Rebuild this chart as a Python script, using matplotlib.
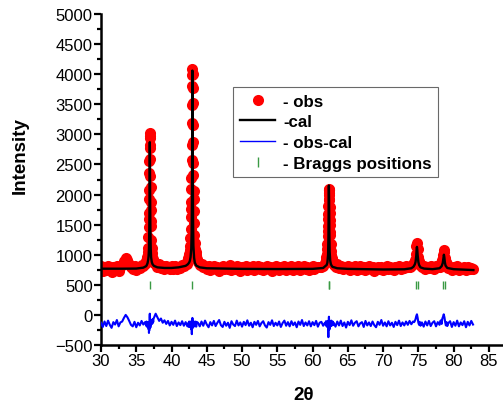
import matplotlib
matplotlib.use("Agg")
from matplotlib import pyplot as plt
from matplotlib.lines import Line2D
from matplotlib.ticker import MultipleLocator

plt.rcParams['font.family'] = ['Liberation Sans', 'DejaVu Sans']

# observed pattern (2theta, counts) and obs-cal difference on the same points
tt_obs = [
    30.00, 30.25, 30.50, 30.75, 31.00, 31.25, 31.50, 31.75, 32.00, 32.25, 32.50, 32.75,
    33.00, 33.25, 33.50, 33.75, 34.00, 34.25,
    34.50, 34.75, 35.00, 35.25, 35.50, 35.75, 36.00, 36.25,
    36.40, 36.45, 36.50, 36.55, 36.60, 36.65, 36.70,
    36.74, 36.76, 36.78, 36.80, 36.82, 36.84, 36.86, 36.88, 36.90, 36.92,
    36.94, 36.96, 36.98, 37.00, 37.02, 37.04, 37.06, 37.08, 37.10,
    37.15, 37.20, 37.25, 37.30, 37.35, 37.40, 37.45,
    37.50, 37.75, 38.00, 38.25, 38.50, 38.75, 39.00, 39.25, 39.50, 39.75,
    40.00, 40.25, 40.50, 40.75, 41.00, 41.25, 41.50, 41.75, 42.00, 42.25,
    42.40, 42.45, 42.50, 42.55, 42.60, 42.65, 42.70, 42.74,
    42.76, 42.78, 42.80, 42.82, 42.84, 42.86, 42.88, 42.90, 42.92, 42.94, 42.96,
    42.98, 43.00, 43.02, 43.04, 43.06, 43.08, 43.10, 43.12, 43.14, 43.16,
    43.20, 43.25, 43.30, 43.35, 43.40, 43.45, 43.50, 43.55,
    43.75, 44.00, 44.25, 44.50, 44.75, 45.00, 45.25, 45.50, 45.75, 46.00,
    46.25, 46.50, 46.75, 47.00, 47.25, 47.50, 47.75, 48.00, 48.25, 48.50,
    48.75, 49.00, 49.25, 49.50, 49.75, 50.00, 50.25, 50.50, 50.75, 51.00,
    51.25, 51.50, 51.75, 52.00, 52.25, 52.50, 52.75, 53.00, 53.25, 53.50,
    53.75, 54.00, 54.25, 54.50, 54.75, 55.00, 55.25, 55.50, 55.75, 56.00,
    56.25, 56.50, 56.75, 57.00, 57.25, 57.50, 57.75, 58.00, 58.25, 58.50,
    58.75, 59.00, 59.25, 59.50, 59.75, 60.00, 60.25, 60.50, 60.75, 61.00,
    61.25, 61.50, 61.75,
    61.85, 61.90, 61.95, 62.00, 62.05, 62.10,
    62.14, 62.16, 62.18, 62.20, 62.22, 62.24, 62.26, 62.28, 62.30, 62.32,
    62.34, 62.36, 62.38, 62.40, 62.42, 62.44, 62.46, 62.48, 62.50,
    62.55, 62.60, 62.65, 62.70, 62.75, 62.80, 62.85, 62.90,
    63.00, 63.25, 63.50, 63.75, 64.00, 64.25, 64.50, 64.75, 65.00, 65.25,
    65.50, 65.75, 66.00, 66.25, 66.50, 66.75, 67.00, 67.25, 67.50, 67.75,
    68.00, 68.25, 68.50, 68.75, 69.00, 69.25, 69.50, 69.75, 70.00, 70.25,
    70.50, 70.75, 71.00, 71.25, 71.50, 71.75, 72.00, 72.25, 72.50, 72.75,
    73.00, 73.25, 73.50, 73.75, 74.00, 74.25,
    74.40, 74.50, 74.60, 74.70, 74.80, 74.90, 75.00, 75.10, 75.20, 75.30,
    75.50, 75.75, 76.00, 76.25, 76.50, 76.75, 77.00, 77.25, 77.50, 77.75, 78.00, 78.10,
    78.20, 78.30, 78.40, 78.50, 78.60, 78.70, 78.80, 78.90, 79.00, 79.10,
    79.25, 79.50, 79.75, 80.00, 80.25, 80.50, 80.75, 81.00, 81.25, 81.50,
    81.75, 82.00, 82.25, 82.50, 82.75,
]
i_obs = [
    805, 725, 790, 740, 815, 760, 705, 790, 770, 820, 735, 800,
    830, 890, 950, 920, 850, 790,
    760, 810, 745, 800, 775, 830, 805, 850,
    880, 900, 930, 960, 1040, 1120, 1290,
    1460, 1600, 1700, 1920, 2080, 2350, 2550, 2820, 2940, 3020,
    2970, 2780, 2590, 2310, 2120, 1880, 1740, 1560, 1470,
    1250, 1110, 1030, 970, 930, 900, 880,
    870, 850, 800, 845, 780, 820, 765, 810, 790, 755,
    805, 770, 820, 760, 800, 780, 830, 810, 855, 840,
    940, 970, 1010, 1080, 1150, 1270, 1430, 1620,
    1760, 1880, 2100, 2280, 2570, 2830, 3190, 3480, 3810, 3980, 4080,
    4010, 3770, 3520, 3150, 2870, 2530, 2320, 2060, 1920, 1730,
    1520, 1320, 1190, 1100, 1040, 990, 950, 925,
    880, 830, 850, 790, 820, 770, 805, 745, 790, 820,
    760, 800, 730, 785, 815, 755, 795, 770, 825, 745,
    790, 760, 810, 775, 735, 800, 770, 820, 750, 790,
    765, 805, 740, 785, 815, 760, 795, 745, 780, 810,
    765, 800, 735, 790, 820, 770, 745, 800, 775, 810,
    750, 790, 765, 815, 740, 795, 770, 805, 750, 790,
    820, 765, 800, 745, 785, 810, 770, 800, 790, 800,
    790, 820, 860,
    895, 920, 960, 1010, 1090, 1185,
    1310, 1400, 1470, 1590, 1680, 1810, 1910, 2020, 2070, 2100,
    2080, 2000, 1930, 1790, 1700, 1570, 1490, 1380, 1320,
    1170, 1070, 1000, 950, 915, 890, 870, 855,
    830, 800, 840, 780, 810, 760, 800, 775, 820, 750,
    790, 765, 805, 740, 785, 810, 760, 795, 745, 780,
    805, 755, 790, 735, 775, 800, 760, 790, 740, 780,
    805, 755, 790, 770, 745, 800, 775, 810, 760, 795,
    780, 820, 800, 790, 810, 840,
    870, 915, 1010, 1140, 1200, 1090, 965, 890, 850, 825,
    790, 815, 760, 800, 775, 820, 790, 755, 805, 790, 800, 830,
    860, 880, 920, 1000, 1080, 1050, 950, 880, 840, 815,
    780, 800, 745, 790, 770, 810, 740, 785, 765, 800,
    750, 790, 760, 780, 755,
]
i_diff = [
    -130, -200, -110, -185, -95, -165, -215, -120, -160, -85, -190, -125,
    -110, -50, 0, -40, -100, -165,
    -190, -115, -205, -130, -175, -100, -160, -120,
    -175, -110, -195, -130, -180, -120, -200,
    -150, -240, -180, -300, -220, -260, -120, -40, 0, 20,
    -20, -80, -150, -210, -170, -130, -160, -110, -140,
    -100, -150, -80, -140, -70, -120, -60,
    -50, 20, -40, -100, -60, -130, -90, -150, -100, -175,
    -115, -165, -95, -185, -125, -170, -105, -180, -120, -190,
    -130, -200, -110, -185, -125, -205, -140, -110,
    -215, -150, -190, -240, -200, -280, -320, -250, -130, -80, -50,
    -100, -150, -215, -140, -100, -185, -120, -190, -140, -160,
    -185, -120, -190, -110, -175, -125, -195, -115,
    -130, -190, -110, -180, -95, -160, -205, -120, -175, -100,
    -185, -130, -85, -170, -200, -115, -180, -130, -215, -105,
    -160, -185, -95, -175, -125, -195, -115, -170, -90, -180,
    -130, -205, -115, -165, -100, -190, -135, -105, -175, -210,
    -120, -165, -90, -185, -130, -175, -110, -200, -135, -95,
    -180, -120, -190, -105, -170, -125, -205, -110, -165, -85,
    -185, -125, -175, -105, -190, -120, -170, -100, -195, -130,
    -115, -180, -130,
    -165, -105, -185, -120, -195, -125,
    -100, -205, -170, -230, -300, -370, -250, -120, -60, -30,
    -80, -120, -180, -240, -180, -120, -175, -105, -150,
    -190, -125, -95, -180, -120, -160, -110, -170,
    -130, -195, -110, -175, -95, -185, -125, -210, -115, -170,
    -90, -180, -130, -105, -190, -140, -120, -200, -100, -175,
    -125, -185, -110, -170, -205, -115, -165, -85, -180, -125,
    -190, -105, -175, -130, -200, -115, -170, -95, -185, -125,
    -175, -110, -165, -100, -155, -110,
    -120, -100, -70, -20, 10, -50, -130, -165, -115, -180,
    -125, -195, -110, -175, -100, -185, -130, -105, -190, -120, -165, -105,
    -90, -150, -60, -30, 10, -40, -120, -175, -120, -185,
    -135, -105, -200, -120, -180, -95, -190, -125, -170, -105,
    -205, -115, -175, -100, -160,
]

# calculated profile
tt_cal = [
    30.0, 33.0, 35.0, 36.0, 36.4, 36.5, 36.6, 36.7, 36.75, 36.8, 36.85, 36.88,
    36.9, 36.92, 36.94, 36.96, 37.0, 37.05, 37.1, 37.2, 37.3, 37.5, 38.0, 39.0,
    40.0, 41.0, 42.0, 42.3, 42.5, 42.6, 42.7, 42.8, 42.85, 42.9, 42.93, 42.96,
    42.99, 43.02, 43.06, 43.1, 43.2, 43.3, 43.5, 44.0, 45.0, 50.0, 55.0, 60.0,
    61.5, 62.0, 62.1, 62.2, 62.25, 62.28, 62.31, 62.34, 62.37, 62.42, 62.5, 62.6,
    62.8, 63.5, 65.0, 70.0, 73.0, 74.0, 74.3, 74.5, 74.6, 74.7, 74.76, 74.8,
    74.84, 74.9, 75.0, 75.1, 75.3, 75.8, 77.0, 78.0, 78.3, 78.45, 78.55, 78.62,
    78.68, 78.75, 78.85, 79.1, 80.0, 82.8,
]
i_cal = [
    768, 768, 770, 785, 810, 830, 860, 920, 980, 1100, 1450, 1900,
    2500, 2870, 2600, 2100, 1450, 1100, 960, 880, 845, 815, 790, 780,
    780, 790, 815, 840, 870, 900, 960, 1100, 1350, 2000, 3100, 4060,
    3300, 2300, 1500, 1150, 950, 870, 820, 790, 775, 765, 762, 765,
    780, 830, 870, 1000, 1300, 1750, 2150, 1900, 1400, 1050, 900, 840,
    800, 775, 765, 755, 758, 775, 800, 840, 880, 980, 1100, 1130,
    1090, 990, 880, 830, 790, 770, 760, 775, 810, 860, 940, 1000,
    960, 880, 820, 780, 760, 745,
]

bragg = [36.92, 42.96, 62.26, 62.38, 74.62, 74.88, 78.52, 78.80]

fig = plt.figure(figsize=(5.03, 4.06), dpi=100)
ax = fig.add_axes([101/503, 60/406, 402/503, 331/406])

ax.plot(tt_obs, i_obs, 'o', color='red', markersize=8, markeredgewidth=0, zorder=2)
ax.plot(tt_cal, i_cal, '-', color='black', lw=1.7, zorder=3)
ax.plot(tt_obs, i_diff, '-', color='blue', lw=1.5, zorder=3)
ax.vlines(bragg, 430, 560, color='#3a9a44', lw=1.0, zorder=3)

ax.set_xlim(30, 87)
ax.set_ylim(-500, 5000)
ax.xaxis.set_major_locator(MultipleLocator(5))
ax.xaxis.set_minor_locator(MultipleLocator(2.5))
ax.yaxis.set_major_locator(MultipleLocator(500))
ax.yaxis.set_minor_locator(MultipleLocator(250))

for s in ['top', 'right']:
    ax.spines[s].set_visible(False)
for s in ['left', 'bottom']:
    ax.spines[s].set_linewidth(1.8)
ax.tick_params(which='major', length=5, width=1.6, labelsize=12, pad=1)
ax.tick_params(which='minor', length=3, width=1.6)

ax.set_xlabel('2θ', fontsize=13.5, fontweight='bold')
ax.set_ylabel('Intensity', fontsize=13.5, fontweight='bold')
ax.xaxis.set_label_coords(0.505, -0.125)
ax.yaxis.set_label_coords(-0.179, 0.574)

handles = [
    Line2D([], [], ls='none', marker='o', color='red', markersize=8, markeredgewidth=0),
    Line2D([], [], color='black', lw=1.7),
    Line2D([], [], color='blue', lw=1.0),
    Line2D([], [], ls='none', marker='|', color='#3a9a44', markersize=7, markeredgewidth=1),
]
labels = ['- obs', '-cal', '- obs-cal', '- Braggs positions']
leg = ax.legend(handles, labels, loc='upper left', bbox_to_anchor=(233/503, 1 - 88/406),
                bbox_transform=fig.transFigure, frameon=True, fancybox=False,
                prop={'weight': 'bold', 'size': 12.2}, borderpad=0.4, labelspacing=0.33,
                handlelength=2.1, handletextpad=0.45, borderaxespad=0)
leg.get_frame().set_edgecolor('#444444')
leg.get_frame().set_linewidth(0.8)

fig.savefig('out.png', dpi=100)
